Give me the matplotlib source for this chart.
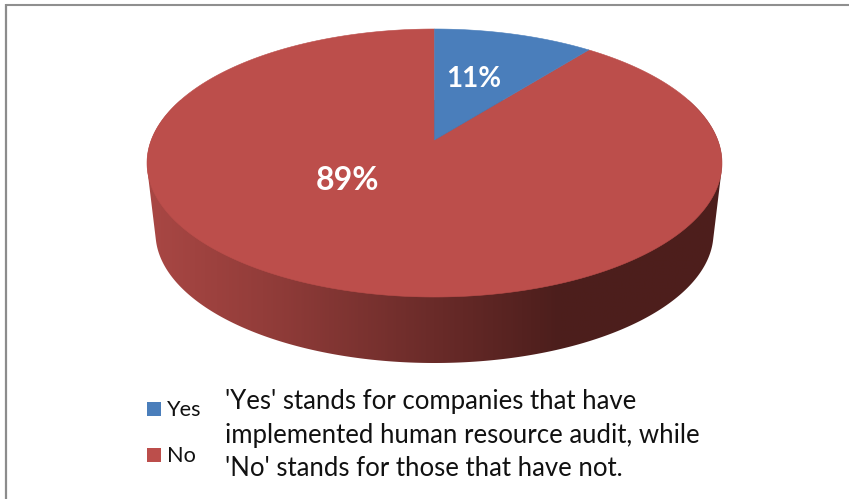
import numpy as np
import matplotlib
matplotlib.use("Agg")
import matplotlib.pyplot as plt
from matplotlib.colors import LinearSegmentedColormap
from matplotlib.patches import Polygon, Rectangle

# Survey result
categories = ["Yes", "No"]
shares = [11, 89]
share_labels = ["11%", "89%"]
note_lines = [
    "'Yes' stands for companies that have",
    "implemented human resource audit, while",
    "'No' stands for those that have not.",
]

slice_colors = ["#4a7ebb", "#bc4e4b"]
side_stops = [(0.0, "#a94744"), (0.2, "#933d3a"), (0.5, "#6a2b29"),
              (0.72, "#4c1e1c"), (1.0, "#4e1f1c")]

plt.rcParams["font.family"] = ["Lato", "DejaVu Sans"]

fig = plt.figure(figsize=(8.49, 4.99), dpi=100, facecolor="white")
ax = fig.add_axes([0, 0, 1, 1])
ax.set_xlim(0, 849)
ax.set_ylim(499, 0)
ax.axis("off")

# Frame: only the top and left edges show
ax.plot([6.5, 849], [5, 5], color="#8f8f8f", lw=1.5, solid_capstyle="butt")
ax.plot([6.5, 6.5], [4, 499], color="#8c8c8c", lw=1.6, solid_capstyle="butt")

# Tilted pie geometry
cx, top_cy, top_rx, top_ry = 434.5, 163.0, 287.5, 134.0
bot_cy, bot_rx, bot_ry = 233.0, 279.0, 130.0
apex_y = 140.0
ray_aspect = 2.07

t = np.linspace(0, 2 * np.pi, 721)
top_pts = np.column_stack([cx + top_rx * np.cos(t), top_cy + top_ry * np.sin(t)])
bot_pts = np.column_stack([cx + bot_rx * np.cos(t), bot_cy + bot_ry * np.sin(t)])


def convex_hull(points):
    pts = sorted(map(tuple, points))

    def half(seq):
        out = []
        for p in seq:
            while len(out) > 1 and (
                (out[-1][0] - out[-2][0]) * (p[1] - out[-2][1])
                - (out[-1][1] - out[-2][1]) * (p[0] - out[-2][0])
            ) <= 0:
                out.pop()
            out.append(p)
        return out[:-1]

    return np.array(half(pts) + half(pts[::-1]))


# Side wall: horizontal shading clipped to the outline of the disc
side_cmap = LinearSegmentedColormap.from_list("side", side_stops)
wall = ax.imshow(
    np.linspace(0, 1, 600)[None, :],
    extent=[cx - top_rx, cx + top_rx, 400, 100],
    cmap=side_cmap, aspect="auto", zorder=2, interpolation="bilinear",
)
hull = Polygon(convex_hull(np.vstack([top_pts, bot_pts])), closed=True,
               transform=ax.transData, fc="none", ec="none")
ax.add_patch(hull)
wall.set_clip_path(hull)
ax.set_xlim(0, 849)
ax.set_ylim(499, 0)


def rim_point(theta):
    """Where the ray from the apex at pie angle theta meets the top ellipse."""
    dx, dy = ray_aspect * np.sin(theta), -np.cos(theta)
    oy = apex_y - top_cy
    a = (dx / top_rx) ** 2 + (dy / top_ry) ** 2
    b = 2 * oy * dy / top_ry ** 2
    c = (oy / top_ry) ** 2 - 1
    s = (-b + np.sqrt(b ** 2 - 4 * a * c)) / (2 * a)
    return cx + s * dx, apex_y + s * dy


def wedge(start, stop):
    thetas = np.linspace(start, stop, 400)
    rim = np.array([rim_point(th) for th in thetas])
    return np.vstack([[cx, apex_y], rim])


edges = 2 * np.pi * np.cumsum([0] + shares) / sum(shares)
for i in (1, 0):
    ax.add_patch(Polygon(wedge(edges[i], edges[i + 1]), closed=True,
                         fc=slice_colors[i], ec=slice_colors[i], lw=0.4, zorder=3))

# Percentage labels
ax.text(474, 79, share_labels[0], color="white", fontsize=20, fontweight="bold",
        ha="center", va="center", zorder=5)
ax.text(347.5, 181, share_labels[1], color="white", fontsize=23, fontweight="bold",
        ha="center", va="center", zorder=5)

# Legend
legend_baselines = [416, 462]
for name, color, base in zip(categories, slice_colors, legend_baselines):
    ax.add_patch(Rectangle((147.3, base - 14), 13.7, 14, fc=color, ec="none", zorder=5))
    ax.text(167, base, name, fontsize=15.6, color="#111111", ha="left", va="baseline", zorder=5)

# Explanatory note
for line, base in zip(note_lines, [409, 443, 476]):
    ax.text(225, base, line, fontsize=18.5, color="#111111", ha="left", va="baseline", zorder=5)

fig.savefig("out.png", dpi=100, facecolor="white")
